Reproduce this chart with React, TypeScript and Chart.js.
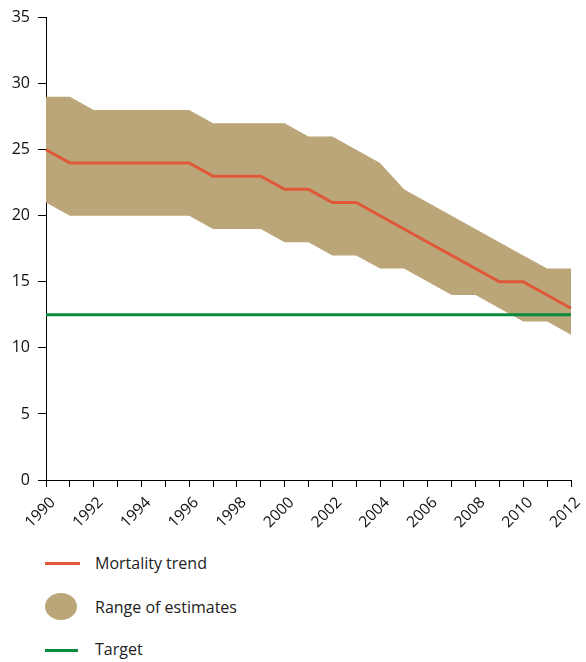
import React, { useEffect, useRef } from "react";
import { Chart, registerables } from "chart.js";

Chart.register(...registerables);

const years = ["1990","1991","1992","1993","1994","1995","1996","1997","1998","1999","2000","2001","2002","2003","2004","2005","2006","2007","2008","2009","2010","2011","2012"];
const mortalityTrend = [25,24,24,24,24,24,24,23,23,23,22,22,21,21,20,19,18,17,16,15,15,14,13];
const upperEstimate = [29,29,28,28,28,28,28,27,27,27,27,26,26,25,24,22,21,20,19,18,17,16,16];
const lowerEstimate = [21,20,20,20,20,20,20,19,19,19,18,18,17,17,16,16,15,14,14,13,12,12,11];
const targetValue = 12.5;
const yTicks = [0, 5, 10, 15, 20, 25, 30, 35];
const legendLabels = ["Mortality trend", "Range of estimates", "Target"];

const RED = "#E0583A";
const GREEN = "#0B8A40";
const BAND = "#BAA678";
const FONT = "'Open Sans', 'Noto Sans', sans-serif";

const xLabelPlugin = {
  id: "xLabels",
  afterDraw(chart: any) {
    const scale = chart.scales.x;
    const ctx = chart.ctx;
    ctx.save();
    ctx.fillStyle = "#111";
    ctx.font = `15.5px ${FONT}`;
    ctx.textAlign = "right";
    ctx.textBaseline = "middle";
    years.forEach((label, i) => {
      if (i % 2 !== 0) return;
      const x = scale.getPixelForValue(i);
      ctx.save();
      ctx.translate(x + 7, scale.top + 20);
      ctx.rotate(-Math.PI / 4);
      ctx.fillText(label, 0, 0);
      ctx.restore();
    });
    ctx.restore();
  },
};

export default function App() {
  const ref = useRef<HTMLCanvasElement | null>(null);
  useEffect(() => {
    if (!ref.current) return;
    const chart = new Chart(ref.current, {
      type: "line",
      data: {
        labels: years,
        datasets: [
          {
            label: legendLabels[0],
            data: mortalityTrend,
            borderColor: RED,
            borderWidth: 3,
            pointRadius: 0,
            tension: 0,
            fill: false,
          },
          {
            label: legendLabels[2],
            data: years.map(() => targetValue),
            borderColor: GREEN,
            borderWidth: 3,
            pointRadius: 0,
            fill: false,
          },
          {
            label: legendLabels[1],
            data: upperEstimate,
            borderWidth: 0,
            borderColor: BAND,
            backgroundColor: BAND,
            pointRadius: 0,
            fill: "+1",
          },
          {
            label: "lower",
            data: lowerEstimate,
            borderWidth: 0,
            borderColor: BAND,
            backgroundColor: BAND,
            pointRadius: 0,
            fill: false,
          },
        ],
      },
      options: {
        animation: false,
        responsive: false,
        maintainAspectRatio: false,
        layout: { padding: { top: 15, right: 15, left: 0, bottom: 0 } },
        plugins: { legend: { display: false }, tooltip: { enabled: false } },
        scales: {
          x: {
            type: "category",
            offset: false,
            grid: {
              display: true,
              drawOnChartArea: false,
              drawTicks: true,
              tickLength: 7,
              tickColor: "#000",
            },
            border: { display: true, color: "#000", width: 1 },
            ticks: {
              autoSkip: false,
              maxRotation: 0,
              padding: 0,
              callback: () => "",
            },
            afterFit: (s: any) => {
              s.height = 55;
            },
          },
          y: {
            min: 0,
            max: 35,
            grid: {
              display: true,
              drawOnChartArea: false,
              drawTicks: true,
              tickLength: 8,
              tickColor: "#000",
            },
            border: { display: true, color: "#000", width: 1 },
            afterBuildTicks: (s: any) => {
              s.ticks = yTicks.map((v) => ({ value: v }));
            },
            ticks: {
              padding: 8,
              color: "#111",
              font: { family: FONT, size: 16 },
            },
            afterFit: (s: any) => {
              s.width = 46;
            },
          },
        },
      },
      plugins: [xLabelPlugin],
    });
    return () => chart.destroy();
  }, []);

  const legendText: React.CSSProperties = {
    position: "absolute",
    left: 95,
    fontFamily: FONT,
    fontSize: 16,
    color: "#222",
    lineHeight: "20px",
  };

  return (
    <div style={{ position: "absolute", left: 0, top: 0, width: 586, height: 662, background: "#fff" }}>
      <canvas ref={ref} width={586} height={535} style={{ position: "absolute", left: 0, top: 0 }} />
      <div style={{ position: "absolute", left: 45, top: 562, width: 35, height: 3, background: RED }} />
      <div style={{ ...legendText, top: 553 }}>{legendLabels[0]}</div>
      <div style={{ position: "absolute", left: 45, top: 593, width: 32, height: 27, borderRadius: "50%", background: BAND }} />
      <div style={{ ...legendText, top: 597 }}>{legendLabels[1]}</div>
      <div style={{ position: "absolute", left: 45, top: 649, width: 33, height: 3, background: GREEN }} />
      <div style={{ ...legendText, top: 639 }}>{legendLabels[2]}</div>
    </div>
  );
}
